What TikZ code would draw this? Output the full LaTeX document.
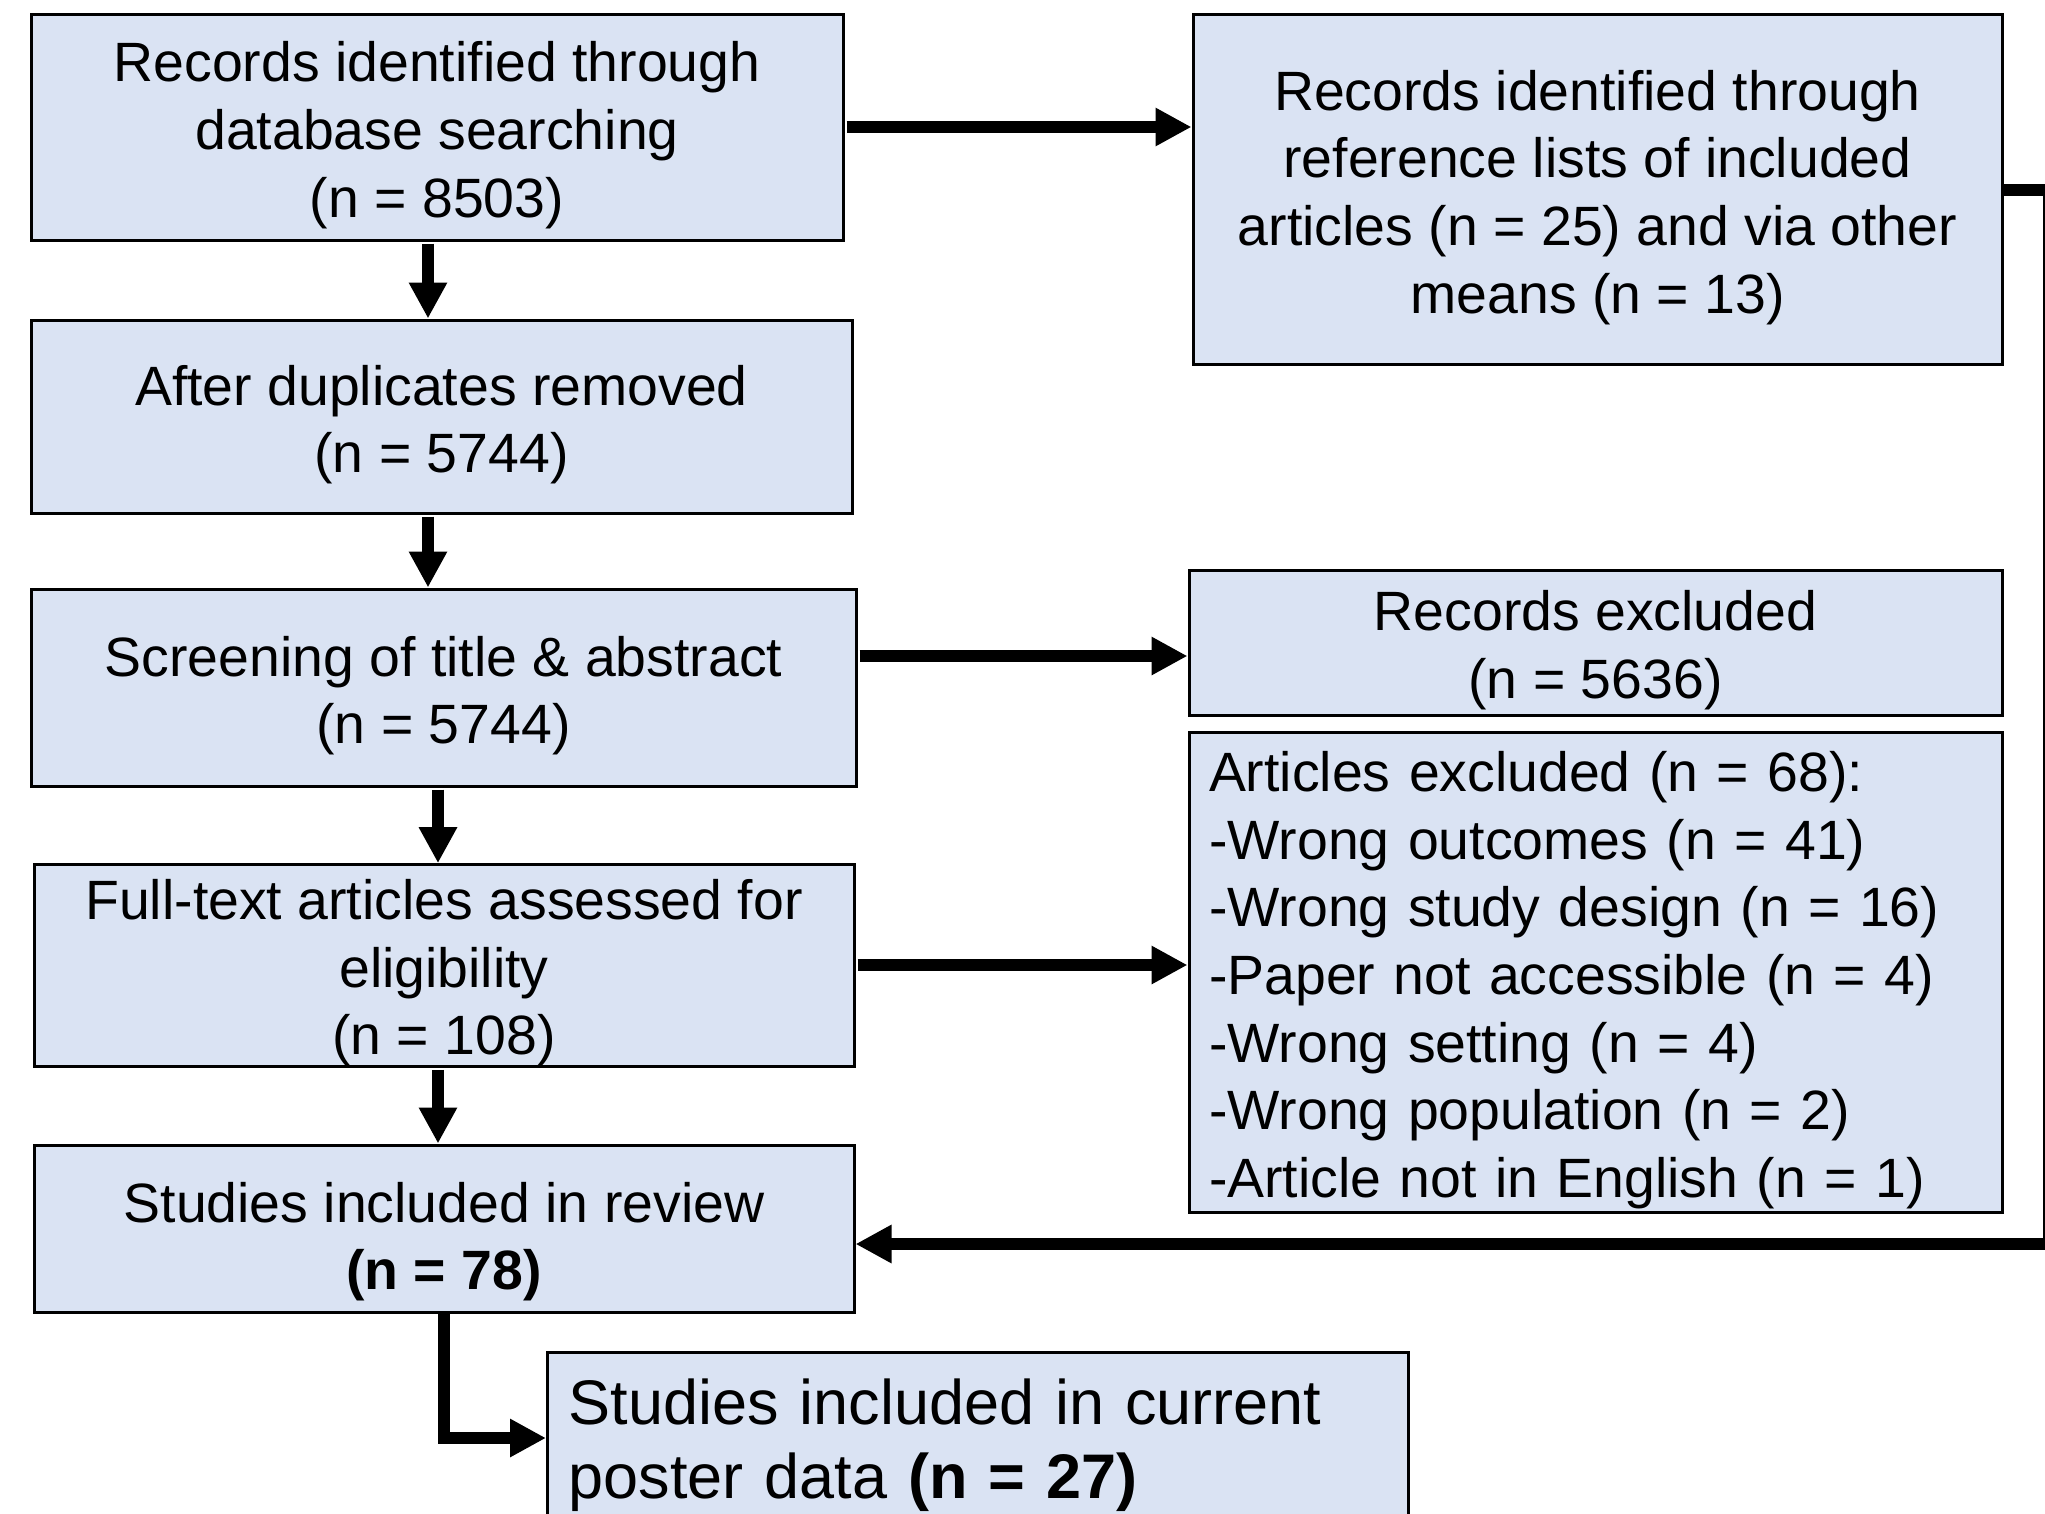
\documentclass[tikz,border=0pt]{standalone}
\usepackage{fontspec}
\setmainfont{Liberation Sans}
\usetikzlibrary{arrows.meta}
\definecolor{boxfill}{RGB}{218,227,243}
\newcommand\mainsz{\fontsize{55.4pt}{67.6pt}\selectfont}
\newcommand\postersz{\fontsize{63pt}{74pt}\selectfont}
\newcommand\dn[1]{\rule{0pt}{#1}}
\begin{document}
\begin{tikzpicture}[x=1pt,y=-1pt,
  box/.style={draw=black, line width=3pt, fill=boxfill, inner sep=0pt, align=center, font=\mainsz},
  arr/.style={line width=12pt, -{Triangle[length=36pt,width=36pt]}, shorten <=2pt},
  conn/.style={line width=12pt}]
\useasboundingbox (0,0) rectangle (2045,1513);
\clip (0,0) rectangle (2045,1513);
\fill[white] (0,0) rectangle (2045,1513);

\node[box, minimum width=812pt, minimum height=226pt] (db) at (437,127)
  {\dn{56.5pt}Records identified through\\database searching\\(n = 8503)};
\node[box, minimum width=809pt, minimum height=350pt] (refs) at (1597.5,189)
  {\dn{57pt}Records identified through\\reference lists of included\\articles (n = 25) and via other\\means (n = 13)};
\node[box, minimum width=821pt, minimum height=193pt] (dup) at (441.5,416.5)
  {\dn{56.5pt}After duplicates removed\\(n = 5744)};
\node[box, minimum width=825pt, minimum height=197pt] (screen) at (443.5,687.5)
  {\dn{56.5pt}Screening of title \& abstract\\(n = 5744)};
\node[box, minimum width=813pt, minimum height=145pt] (recex) at (1595.5,642.5)
  {\dn{55pt}Records excluded\\(n = 5636)};
\node[box, minimum width=813pt, minimum height=480pt, align=left, text width=773pt, inner xsep=20pt] (artex) at (1595.5,972)
  {\dn{56.5pt}Articles excluded (n = 68):\\-Wrong outcomes (n = 41)\\-Wrong study design (n = 16)\\-Paper not accessible (n = 4)\\-Wrong setting (n = 4)\\-Wrong population (n = 2)\\-Article not in English (n = 1)};
\node[box, minimum width=820pt, minimum height=201pt] (full) at (444,965.5)
  {\dn{55pt}Full-text articles assessed for\\eligibility\\(n = 108)};
\node[box, minimum width=820pt, minimum height=167pt] (incl) at (444,1228.5)
  {\dn{66.5pt}Studies included in review\\\textbf{(n = 78)}};
\node[box, anchor=north west, align=left, text width=819pt, inner xsep=21pt, inner ysep=26pt, font=\postersz] (poster) at (546,1351)
  {Studies included in current\\poster data \textbf{(n = 27)}\par\vspace*{40pt}};

\draw[arr] (db.south -| 428,0) -- (dup.north -| 428,0);
\draw[arr] (dup.south -| 428,0) -- (screen.north -| 428,0);
\draw[arr] (screen.south -| 438,0) -- (full.north -| 438,0);
\draw[arr] (full.south -| 438,0) -- (incl.north -| 438,0);
\draw[arr] (db.east |- 0,127) -- (refs.west |- 0,127);
\draw[arr] (screen.east |- 0,656) -- (recex.west |- 0,656);
\draw[arr] (full.east |- 0,965) -- (artex.west |- 0,965);
\draw[arr, shorten <=0pt] (refs.east |- 0,190) -- (2049,190) -- (2049,1244) -- (incl.east |- 0,1244);
\draw[arr, shorten <=0pt] (incl.south -| 444,0) -- (444,1438) -- (poster.west |- 0,1438);
\end{tikzpicture}
\end{document}
